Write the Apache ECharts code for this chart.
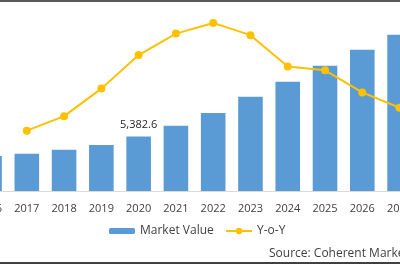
<!DOCTYPE html>
<html>
<head>
<meta charset="utf-8">
<script src="https://cdn.jsdelivr.net/npm/echarts@6/dist/echarts.min.js"></script>
<style>html,body{margin:0;padding:0;background:#fff}#c{width:400px;height:266px}</style>
</head>
<body>
<div id="c"></div>
<script>
var years = ['2016','2017','2018','2019','2020','2021','2022','2023','2024','2025','2026','2027'];
var marketValue = [3463, 3691, 4087, 4552, 5382.6, 6461, 7718, 9331, 10815, 12398, 13982, 15466];
var yoy = [null, 7.9, 9.8, 13.4, 17.8, 20.6, 22.0, 20.4, 16.3, 15.8, 12.9, 10.9];
var labelledYear = '2020';
var sourceText = 'Source: Coherent Market Insights';

var FONT = 'Open Sans';
var chart = echarts.init(document.getElementById('c'), null, {renderer: 'canvas'});
var barData = marketValue.map(function (v, i) {
  if (years[i] === labelledYear) {
    return {value: v, label: {show: true, position: 'top', distance: 6,
      formatter: function (p) { return echarts.format.addCommas(p.value.toFixed(1)); },
      fontFamily: FONT, fontSize: 11, color: '#262626'}};
  }
  return v;
});
chart.setOption({
  animation: false,
  backgroundColor: '#ffffff',
  grid: {left: -29.1, right: -18.2, top: 0, bottom: 75, containLabel: false, outerBoundsMode: 'none'},
  xAxis: {
    type: 'category', data: years,
    axisLine: {lineStyle: {color: '#d9d9d9', width: 1}},
    axisTick: {show: false},
    axisLabel: {fontFamily: FONT, fontSize: 11, color: '#404040', margin: 12, hideOverlap: false}
  },
  yAxis: [
    {type: 'value', min: 0, max: 18900, show: false, splitLine: {show: false}},
    {type: 'value', min: 0, max: 25, show: false, splitLine: {show: false}}
  ],
  legend: [
    {data: ['Market Value'], left: 104, top: 220, itemWidth: 26, itemHeight: 6, itemGap: 4,
      textStyle: {fontFamily: FONT, fontSize: 12, color: '#404040'}},
    {data: ['Y-o-Y'], left: 220, top: 220, itemWidth: 26, itemHeight: 8, itemGap: 4,
      textStyle: {fontFamily: FONT, fontSize: 12, color: '#404040'}}
  ],
  series: [
    {name: 'Market Value', type: 'bar', data: barData, barWidth: '66%',
      itemStyle: {color: '#5b9bd5'}},
    {name: 'Y-o-Y', type: 'line', yAxisIndex: 1, data: yoy, symbol: 'circle', symbolSize: 8,
      lineStyle: {color: '#ffc000', width: 2}, itemStyle: {color: '#ffc000'}}
  ],
  graphic: [
    {type: 'rect', shape: {x: 0, y: 0, width: 400, height: 2}, style: {fill: '#595959'}},
    {type: 'rect', shape: {x: 0, y: 262, width: 400, height: 2}, style: {fill: '#404040'}},
    {type: 'text', left: 269, top: 248, style: {text: sourceText, font: '12px "Open Sans"', fill: '#404040'}}
  ]
});
</script>
</body>
</html>
